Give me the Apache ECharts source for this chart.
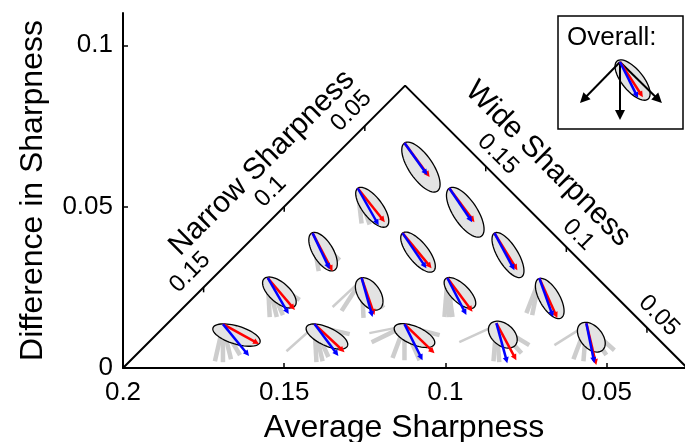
<!DOCTYPE html>
<html><head><meta charset="utf-8">
<script src="https://cdn.jsdelivr.net/npm/echarts@6/dist/echarts.min.js"></script>
<style>html,body{margin:0;padding:0;background:#fff}#c{width:685px;height:442px}</style>
</head><body><div id="c"></div>
<script>
// ---------- data ----------
const xTicks = [0.2, 0.15, 0.1, 0.05];
const yTicks = [0, 0.05, 0.1];
const narrowTicks = [0.15, 0.1, 0.05];
const wideTicks = [0.15, 0.1, 0.05];
const triangle = [[0.2, 0], [0.1125, 0.0875], [0.025, 0]];

// glyph anchor points [average sharpness, difference in sharpness]
const glyphOrigins = [
  [0.1690, 0.0136], [0.1406, 0.0136], [0.1127, 0.0136], [0.0842, 0.0139], [0.0563, 0.0139],
  [0.1551, 0.0279], [0.1260, 0.0279], [0.0994, 0.0279], [0.0709, 0.0279],
  [0.1412, 0.0418], [0.1133, 0.0418], [0.0848, 0.0418],
  [0.1272, 0.0557], [0.0988, 0.0557],
  [0.1127, 0.0697]
];
// vectors below in units of 0.001 sharpness: [dAverage, dDifference]
const redArrows = [
  [-11.2, -6.2], [-9.3, -8.7], [-9.3, -9.0], [-6.2, -11.5], [-3.1, -13.0],
  [-8.4, -9.9], [-4.0, -11.5], [-7.8, -10.5], [-5.6, -12.4],
  [-6.2, -11.8], [-9.0, -10.9], [-7.1, -11.5],
  [-8.4, -10.5], [-7.8, -10.5],
  [-7.8, -10.5]
];
const blueArrows = [
  [-8.1, -9.9], [-7.4, -9.9], [-5.6, -11.2], [-3.4, -12.4], [-2.5, -12.4],
  [-6.5, -11.2], [-3.4, -12.1], [-5.9, -11.5], [-4.3, -12.1],
  [-5.3, -11.2], [-7.4, -10.9], [-6.2, -11.5],
  [-6.5, -11.5], [-7.1, -10.5],
  [-7.1, -9.9]
];
// spread shape: major axis from [a1,d1] to [a2,d2], plus half width
const shapeAxes = [
  [3.1, -1.2, -11.5, -5.6], [2.5, -0.9, -10.2, -6.8], [3.1, -0.9, -9.3, -6.2], [1.9, -0.3, -5.9, -6.8], [1.9, -0.3, -5.0, -8.4],
  [1.2, -0.3, -8.4, -8.7], [0.9, -0.3, -5.6, -9.6], [0.6, -0.3, -8.4, -9.0], [0.3, -0.3, -6.8, -12.4],
  [0.3, 0, -6.8, -11.5], [0, 0, -9.6, -11.8], [0, 0, -8.4, -13.6],
  [0, 0, -9.0, -11.8], [0, 0, -9.9, -14.9],
  [0, 0, -10.2, -14.9]
];
const shapeWidths = [2.8, 2.8, 2.8, 3.4, 3.4, 3.1, 3.4, 2.8, 3.1, 3.1, 3.1, 3.1, 3.1, 3.7, 3.7];
// individual direction lines [dAverage, dDifference, weight]
const fanLines = [
  [[2.5, -11.5, 2], [0, -11.8, 2], [-2.5, -10.9, 2], [-5.3, -9.6, 2]],
  [[8.7, -8.4, 1], [-0.6, -11.8, 2], [-2.5, -11.5, 2], [-4.3, -10.2, 2], [-10.9, -3.1, 2]],
  [[10.9, -2.8, 1], [10.2, -5.6, 2], [3.7, -10.5, 2], [0, -11.2, 2], [-4.7, -11.2, 2], [-10.9, -3.4, 2]],
  [[11.5, -5.9, 1], [0.9, -11.8, 2], [-0.9, -12.1, 2], [-7.8, -9.3, 2], [-10.2, -6.8, 2]],
  [[9.9, -6.8, 1], [4.0, -11.2, 2], [0.9, -11.8, 2], [-6.2, -9.9, 2], [-8.7, -8.4, 2]],
  [[-0.6, -12.1, 2], [-2.8, -12.1, 2], [-4.7, -11.5, 2], [-9.9, -6.8, 2]],
  [[9.0, -9.0, 1], [6.2, -10.2, 2], [-0.6, -12.4, 2], [-6.8, -9.3, 2]],
  [[0.9, -12.1, 2], [-0.6, -12.1, 2], [-1.6, -12.1, 2]],
  [[4.0, -10.9, 2], [2.2, -11.5, 2], [-5.6, -10.2, 2]],
  [[-1.9, -11.8, 2], [-5.6, -11.2, 2], [-8.4, -8.4, 2]],
  [],
  [],
  [[-1.2, -10.9, 2], [-3.7, -11.2, 2]],
  [],
  []
];
// overall (inset)
const overallRed = [-7.1, -10.9];
const overallBlue = [-5.6, -11.2];
const overallShape = [0.9, 0.3, -8.7, -11.5];
const overallWidth = 3.3;
const overallAxes = [[12.4, -12.7], [0, -18.0], [-13.0, -12.7]];

// ---------- drawing ----------
const M = 0.001;
const FONT = "'Liberation Sans', Arial, Helvetica, sans-serif";

function ellipsePts(e1, e2, b) {
  const cx = (e1[0] + e2[0]) / 2, cy = (e1[1] + e2[1]) / 2;
  const a = Math.hypot(e2[0] - e1[0], e2[1] - e1[1]) / 2;
  const ang = Math.atan2(e2[1] - e1[1], e2[0] - e1[0]);
  const ca = Math.cos(ang), sa = Math.sin(ang);
  const pts = [];
  for (let k = 0; k < 60; k++) {
    const t = k / 60 * Math.PI * 2;
    const x = a * Math.cos(t), y = b * Math.sin(t);
    pts.push([cx + x * ca - y * sa, cy + x * sa + y * ca]);
  }
  return pts;
}
function arrow(p0, p1, color, lw, hl, hw) {
  const dx = p1[0] - p0[0], dy = p1[1] - p0[1], L = Math.hypot(dx, dy);
  const ux = dx / L, uy = dy / L;
  const bx = p1[0] - ux * hl, by = p1[1] - uy * hl;
  return { type: 'group', children: [
    { type: 'line', shape: { x1: p0[0], y1: p0[1], x2: bx + ux, y2: by + uy }, style: { stroke: color, lineWidth: lw } },
    { type: 'polygon', shape: { points: [[p1[0], p1[1]], [bx - uy * hw, by + ux * hw], [bx + uy * hw, by - ux * hw]] }, style: { fill: color } }
  ]};
}

const chart = echarts.init(document.getElementById('c'), null, { renderer: 'canvas' });

const option = {
  animation: false,
  backgroundColor: '#fff',
  textStyle: { fontFamily: FONT },
  grid: { left: 123, right: 0, top: 13, bottom: 74, containLabel: false, outerBoundsMode: 'none' },
  xAxis: {
    type: 'value', min: 0.0257, max: 0.2, inverse: true,
    name: 'Average Sharpness', nameLocation: 'middle', nameGap: 44,
    nameTextStyle: { fontSize: 32, color: '#000', fontFamily: FONT },
    axisLine: { lineStyle: { color: '#000', width: 2 } },
    axisTick: { inside: true, length: 5, customValues: xTicks, lineStyle: { color: '#000', width: 1.5 } },
    axisLabel: { customValues: xTicks, fontSize: 26, color: '#000', margin: 12, fontFamily: FONT },
    splitLine: { show: false }
  },
  yAxis: {
    type: 'value', min: 0, max: 0.11,
    name: 'Difference in Sharpness', nameLocation: 'middle', nameGap: 74, nameRotate: 90,
    nameTextStyle: { fontSize: 32, color: '#000', fontFamily: FONT },
    axisLine: { lineStyle: { color: '#000', width: 2 } },
    axisTick: { inside: true, length: 5, customValues: yTicks, lineStyle: { color: '#000', width: 1.5 } },
    axisLabel: { customValues: yTicks, fontSize: 26, color: '#000', margin: 10, fontFamily: FONT },
    splitLine: { show: false }
  },
  graphic: [
    { type: 'text', silent: true, z: 10,
      x: 262, y: 163, rotation: Math.PI / 4,
      style: { text: 'Narrow Sharpness', fontSize: 30, fontFamily: FONT, fill: '#000', align: 'center', verticalAlign: 'middle' } },
    { type: 'text', silent: true, z: 10,
      x: 548, y: 164, rotation: -Math.PI / 4,
      style: { text: 'Wide Sharpness', fontSize: 30, fontFamily: FONT, fill: '#000', align: 'center', verticalAlign: 'middle' } },
    { type: 'rect', silent: true, z: 10, shape: { x: 558, y: 16, width: 125, height: 113 },
      style: { fill: '#fff', stroke: '#000', lineWidth: 1.5 } },
    { type: 'text', silent: true, z: 11, x: 567, y: 38,
      style: { text: 'Overall:', fontSize: 26, fontFamily: FONT, fill: '#000', align: 'left', verticalAlign: 'middle' } }
  ],
  series: [
    { type: 'line', data: triangle, symbol: 'none', lineStyle: { color: '#000', width: 2 }, z: 2, silent: true },
    { // narrow sharpness ticks along left side
      type: 'custom', z: 2, silent: true,
      data: narrowTicks.map(v => [v]),
      renderItem: function (params, api) {
        const n = api.value(0);
        const p = api.coord([(n + 0.2) / 2, (0.2 - n) / 2]);
        return { type: 'group', children: [
          { type: 'line', shape: { x1: p[0], y1: p[1], x2: p[0], y2: p[1] + 5 }, style: { stroke: '#000', lineWidth: 1.5 } },
          { type: 'text', x: p[0] - 13.5, y: p[1] - 15, rotation: Math.PI / 4,
            style: { text: String(n), fontSize: 24, fontFamily: FONT, fill: '#000', align: 'center', verticalAlign: 'middle' } }
        ]};
      }
    },
    { // wide sharpness ticks along right side
      type: 'custom', z: 2, silent: true,
      data: wideTicks.map(v => [v]),
      renderItem: function (params, api) {
        const w = api.value(0);
        const p = api.coord([(w + 0.025) / 2, (w - 0.025) / 2]);
        return { type: 'group', children: [
          { type: 'line', shape: { x1: p[0], y1: p[1], x2: p[0], y2: p[1] + 5 }, style: { stroke: '#000', lineWidth: 1.5 } },
          { type: 'text', x: p[0] + 12, y: p[1] - 12, rotation: -Math.PI / 4,
            style: { text: String(w), fontSize: 24, fontFamily: FONT, fill: '#000', align: 'center', verticalAlign: 'middle' } }
        ]};
      }
    },
    { // grey direction lines
      type: 'custom', z: 1, silent: true, clip: false,
      data: glyphOrigins,
      renderItem: function (params, api) {
        const i = params.dataIndex, o = glyphOrigins[i];
        const p0 = api.coord(o);
        return { type: 'group', children: fanLines[i].map(f => {
          const p = api.coord([o[0] + f[0] * M, o[1] + f[1] * M]);
          return { type: 'line', shape: { x1: p0[0], y1: p0[1] + 2, x2: p[0], y2: p[1] },
            style: { stroke: '#cdcdcd', lineWidth: f[2] === 1 ? 2.5 : 4.5, lineCap: 'butt' } };
        })};
      }
    },
    { // glyphs
      type: 'custom', z: 3, silent: true, clip: false,
      data: glyphOrigins,
      renderItem: function (params, api) {
        const i = params.dataIndex, o = glyphOrigins[i];
        const P = d => api.coord([o[0] + d[0] * M, o[1] + d[1] * M]);
        const p0 = api.coord(o);
        const ax = shapeAxes[i];
        const hw = Math.abs(api.size([shapeWidths[i] * M, 0])[0]);
        return { type: 'group', children: [
          { type: 'polygon', shape: { points: ellipsePts(P([ax[0], ax[1]]), P([ax[2], ax[3]]), hw) },
            style: { fill: '#e3e3e3', stroke: '#000', lineWidth: 1.3 } },
          arrow(p0, P(redArrows[i]), '#ff0000', 2.5, 6, 3),
          arrow(p0, P(blueArrows[i]), '#0000ff', 2.5, 6, 3)
        ]};
      }
    },
    { // overall inset glyph
      type: 'custom', z: 12, zlevel: 1, silent: true, clip: false,
      data: [[0]],
      renderItem: function (params, api) {
        const s = Math.abs(api.size([M, 0])[0]);
        const ox = 620, oy = 62;
        const P = d => [ox - d[0] * s, oy - d[1] * s];
        const hw = overallWidth * s;
        const ch = [
          { type: 'polygon', shape: { points: ellipsePts(P([overallShape[0], overallShape[1]]), P([overallShape[2], overallShape[3]]), hw) },
            style: { fill: '#e3e3e3', stroke: '#000', lineWidth: 1.3 } }
        ];
        overallAxes.forEach(a => ch.push(arrow([ox, oy], P(a), '#000', 2, 10, 5)));
        ch.push(arrow([ox, oy], P(overallRed), '#ff0000', 2.5, 6, 3));
        ch.push(arrow([ox, oy], P(overallBlue), '#0000ff', 2.5, 6, 3));
        return { type: 'group', children: ch };
      }
    }
  ]
};
chart.setOption(option);
</script>
</body></html>
